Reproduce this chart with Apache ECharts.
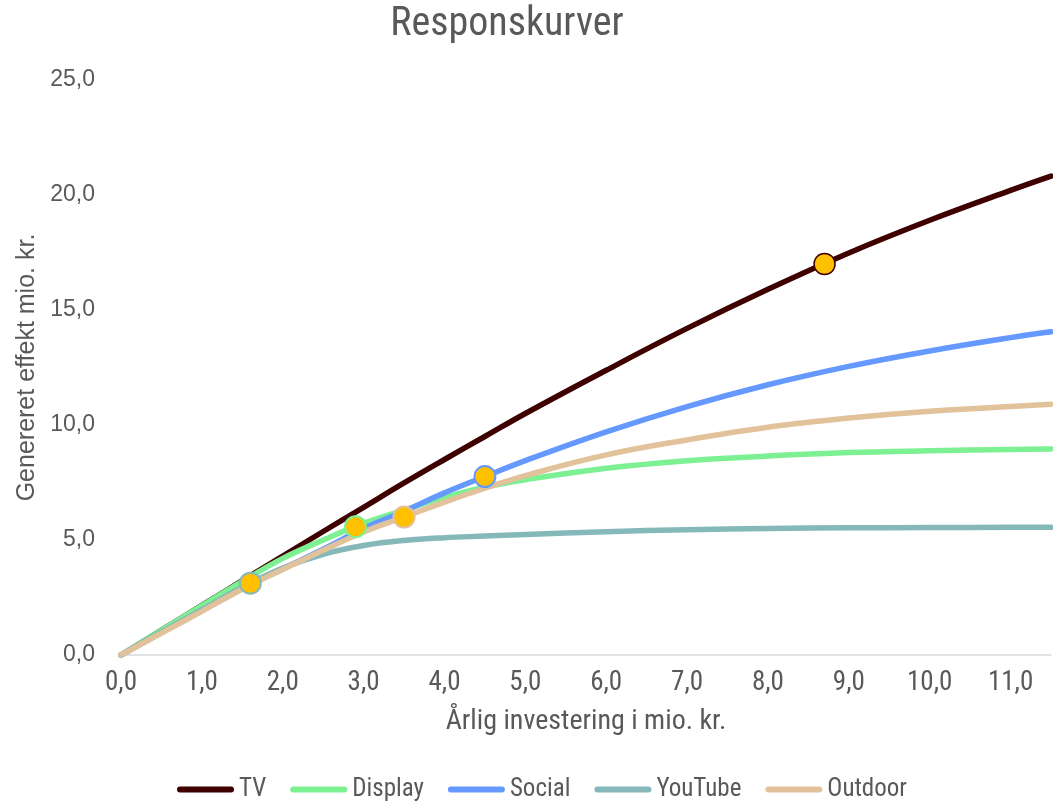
<!DOCTYPE html>
<html>
<head>
<meta charset="utf-8">
<script src="https://cdn.jsdelivr.net/npm/echarts@6/dist/echarts.min.js"></script>
<style>
  html, body { margin: 0; padding: 0; background: #ffffff; }
  #chart { width: 1053px; height: 805px; }
</style>
</head>
<body>
<div id="chart"></div>
<script>
// Annual investment (mio. kr.) at which each response curve is sampled
const investment = [0, 0.5, 1, 1.5, 2, 2.5, 3, 3.5, 4, 4.5, 5, 6, 7, 8, 9, 10, 11, 11.5];

// Generated effect (mio. kr.) per channel
const tvEffect      = [0, 1.08, 2.16, 3.23, 4.30, 5.37, 6.42, 7.48, 8.50, 9.50, 10.50, 12.38, 14.20, 15.90, 17.48, 18.90, 20.20, 20.82];
const displayEffect = [0, 1.08, 2.15, 3.20, 4.20, 5.00, 5.72, 6.30, 6.85, 7.30, 7.62, 8.12, 8.45, 8.65, 8.80, 8.88, 8.94, 8.96];
const socialEffect  = [0, 0.97, 1.93, 2.88, 3.75, 4.60, 5.50, 6.25, 7.05, 7.76, 8.45, 9.70, 10.80, 11.75, 12.55, 13.22, 13.80, 14.05];
const youtubeEffect = [0, 0.99, 1.97, 2.95, 3.78, 4.38, 4.76, 4.98, 5.10, 5.17, 5.24, 5.36, 5.45, 5.50, 5.53, 5.54, 5.55, 5.55];
const outdoorEffect = [0, 0.95, 1.90, 2.87, 3.72, 4.55, 5.35, 6.00, 6.65, 7.25, 7.80, 8.70, 9.35, 9.90, 10.30, 10.60, 10.80, 10.90];

// Current spend point on each curve [investment, effect]
const tvCurrent      = [8.7, 17.0];
const displayCurrent = [2.9, 5.58];
const socialCurrent  = [4.5, 7.76];
const youtubeCurrent = [1.6, 3.12];
const outdoorCurrent = [3.5, 6.0];

const channelNames = ['TV', 'Display', 'Social', 'YouTube', 'Outdoor'];
const xTickStep = 1;
const yTickStep = 5;

const channels = [
  { name: channelNames[0], values: tvEffect,      current: tvCurrent,      color: '#3f0000' },
  { name: channelNames[1], values: displayEffect, current: displayCurrent, color: '#7cf092' },
  { name: channelNames[2], values: socialEffect,  current: socialCurrent,  color: '#6699ff' },
  { name: channelNames[3], values: youtubeEffect, current: youtubeCurrent, color: '#84b8b9' },
  { name: channelNames[4], values: outdoorEffect, current: outdoorCurrent, color: '#e2c29a' }
];

const NARROW = '"Liberation Sans Narrow", "Arial Narrow", "Roboto Condensed", sans-serif';
const REGULAR = '"Liberation Sans", Arial, sans-serif';
const TEXT = '#595959';
const fmt = v => v.toFixed(1).replace('.', ',');
// capsule-shaped legend key, like a thick line with round ends
const LEGEND_KEY = 'path://M3,0 L54,0 A3,3 0 0 1 54,6 L3,6 A3,3 0 0 1 3,0 Z';

const lineSeries = channels.map(c => ({
  name: c.name,
  type: 'line',
  smooth: 0.4,
  symbol: 'none',
  showSymbol: false,
  data: investment.map((x, i) => [x, c.values[i]]),
  lineStyle: { color: c.color, width: 5.5, cap: 'round', join: 'round' },
  itemStyle: { color: c.color },
  emphasis: { disabled: true },
  z: 2
}));

const pointSeries = channels.map(c => ({
  name: c.name + ' nu',
  type: 'scatter',
  symbol: 'circle',
  symbolSize: 21,
  data: [c.current],
  itemStyle: {
    color: '#ffc000',
    opacity: 1,
    borderColor: c.color,
    borderWidth: c.name === 'TV' ? 1.5 : 2
  },
  emphasis: { disabled: true },
  z: 5,
  silent: true
}));

const chart = echarts.init(document.getElementById('chart'), null, { renderer: 'canvas' });
chart.setOption({
  animation: false,
  backgroundColor: '#ffffff',
  graphic: [{
    type: 'text',
    x: 507,
    y: 25,
    style: {
      text: 'Responskurver',
      font: '40px ' + NARROW,
      fill: TEXT,
      textAlign: 'center',
      textVerticalAlign: 'middle'
    }
  }],
  grid: { left: 121, right: 2, top: 80, bottom: 150, containLabel: false },
  legend: {
    data: channelNames.map(n => ({ name: n, icon: LEGEND_KEY })),
    left: 172,
    top: 772,
    itemWidth: 57,
    itemHeight: 6,
    itemGap: 24,
    textStyle: { color: TEXT, fontFamily: NARROW, fontSize: 25 }
  },
  xAxis: {
    type: 'value',
    min: 0,
    max: 11.5,
    interval: xTickStep,
    name: 'Årlig investering i mio. kr.',
    nameLocation: 'middle',
    nameGap: 53,
    nameTextStyle: { color: TEXT, fontFamily: NARROW, fontSize: 28 },
    axisLine: { show: true, lineStyle: { color: '#d9d9d9', width: 1.5 } },
    axisTick: { show: false },
    splitLine: { show: false },
    axisLabel: {
      color: TEXT, fontFamily: NARROW, fontSize: 27, margin: 15,
      showMaxLabel: false,
      formatter: fmt
    }
  },
  yAxis: {
    type: 'value',
    min: 0,
    max: 25,
    interval: yTickStep,
    name: 'Genereret effekt mio. kr.',
    nameLocation: 'middle',
    nameRotate: 90,
    nameGap: 80,
    nameTextStyle: { color: TEXT, fontFamily: REGULAR, fontSize: 25 },
    axisLine: { show: false },
    axisTick: { show: false },
    splitLine: { show: false },
    axisLabel: { color: TEXT, fontFamily: REGULAR, fontSize: 23, margin: 26, formatter: fmt }
  },
  series: lineSeries.concat(pointSeries)
});
</script>
</body>
</html>
